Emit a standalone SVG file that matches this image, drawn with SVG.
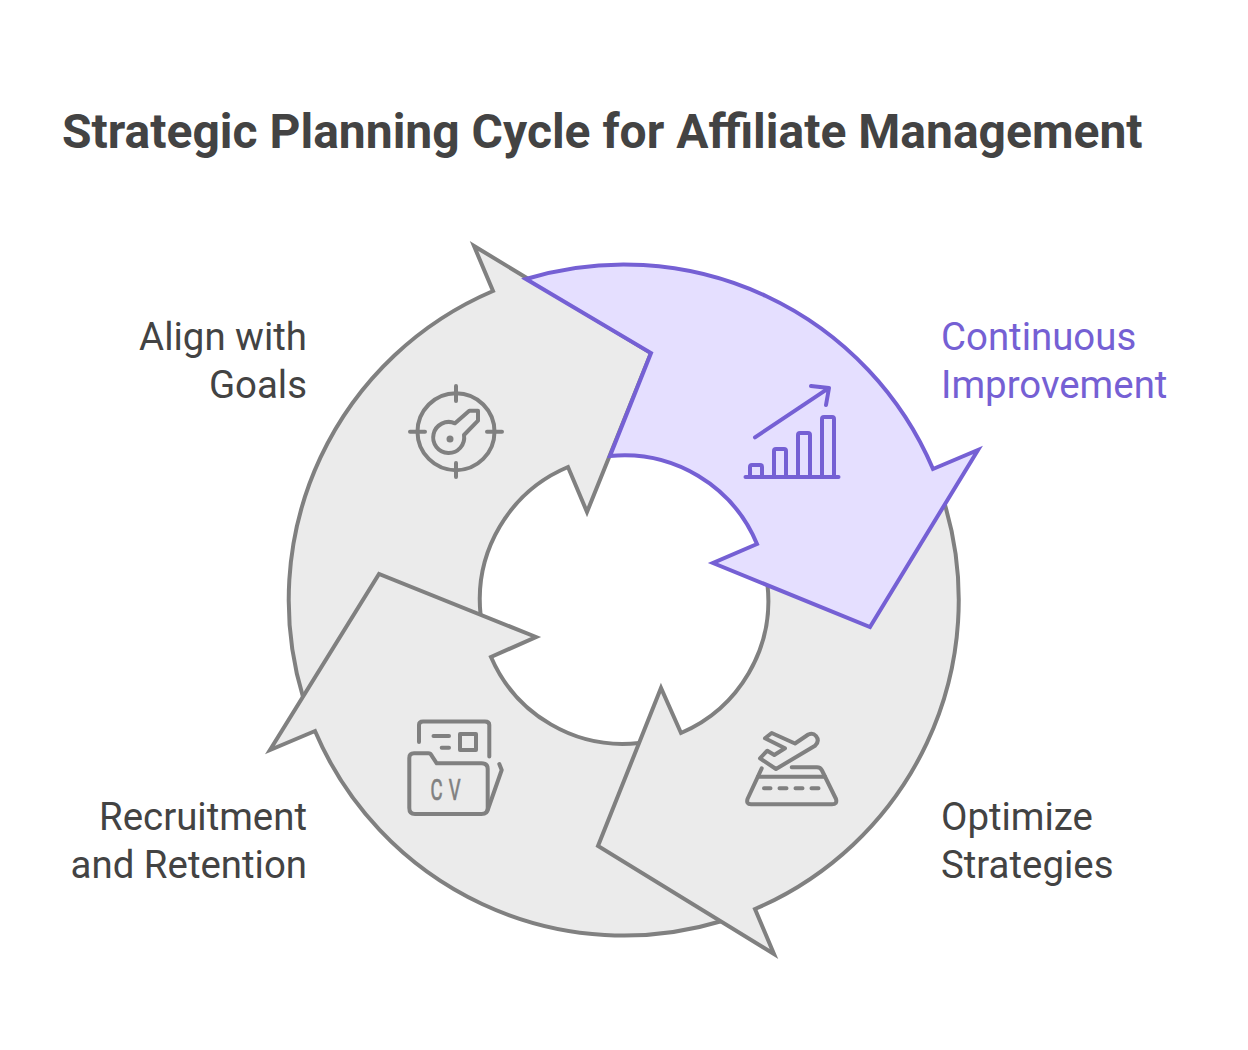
<svg xmlns="http://www.w3.org/2000/svg" width="1248" height="1050" viewBox="0 0 1248 1050">
<style>
text{font-family:Roboto,"Liberation Sans",sans-serif}
.title{font-size:48px;font-weight:700;fill:#434343}
.label{font-size:38.4px;fill:#434343}
.end{text-anchor:end}
.seg{fill:#ebebeb;stroke:#808080;stroke-width:4;stroke-linejoin:miter}
.ic{fill:none;stroke:#808080;stroke-width:4;stroke-linecap:round;stroke-linejoin:round}
.pseg{fill:#e5dfff;stroke:#7560d4;stroke-width:4;stroke-linejoin:miter}
.pic{fill:none;stroke:#7560d4;stroke-width:4;stroke-linecap:round;stroke-linejoin:round}
</style>
<rect width="1248" height="1050" fill="#ffffff"/>
<text class="title" x="62" y="148">Strategic Planning Cycle for Affiliate Management</text>
<g id="align-with-goals">
<path class="seg" d="M303,697A336,336 0 0 1 493,291L474,246L651,353L587,512L568,467A144,144 0 0 0 480.6,615Z"/>
<g class="ic">
<circle cx="456" cy="431.7" r="38.5"/>
<path d="M456,386V401M456,463V477M410,431.7H425M487,431.7H502"/>
<path d="M455,423.3L469.3,410.7H478V420.7L464,435A15.5,15.5 0 1 1 455,423.3Z"/>
</g>
<circle cx="450" cy="439" r="3.5" fill="#808080"/>
<text class="label end" x="307" y="350">Align with</text>
<text class="label end" x="307" y="398">Goals</text>
</g>
<g id="recruitment-and-retention">
<path class="seg" d="M722,921A336,336 0 0 1 315,731L270,750L379,574L536,637L491,657A144,144 0 0 0 639,743Z"/>
<g class="ic">
<path d="M419,742V725Q419,721.5 423,721.5H485Q489.3,721.5 489.3,725V756.5"/>
<path d="M433.5,736H449M441.7,747.7H449"/>
<rect x="460" y="734" width="16" height="16"/>
<path d="M409.3,758Q409.3,753.3 414,753.3H428.5Q430.5,753.3 431.5,755.3L436.7,763.3H481.5Q487.7,763.3 487.7,769V808Q487.7,814 481.5,814H415Q409.3,814 409.3,808Z"/>
<path d="M487.7,810L501.7,770L499.3,764"/>
</g>
<text transform="translate(430.5,800) scale(0.62,1)" font-size="30" letter-spacing="10" fill="#808080" stroke="#808080" stroke-width="0.7">CV</text>
<text class="label end" x="307" y="830">Recruitment</text>
<text class="label end" x="307" y="878">and Retention</text>
</g>
<g id="optimize-strategies">
<path class="seg" d="M945,505A336,336 0 0 1 755,909L774,954L598,846L661,688L681,733A144,144 0 0 0 767.5,585Z"/>
<g class="ic">
<path d="M771.7,733L795,743.5L808.3,734.5Q813,732.5 816,736Q820,741 815,745.7L776,769L760,758.3L767.3,750.7L774.3,755L785,748.3L765,738.3Z"/>
<path d="M761.7,768.3L747.5,799Q746,804.3 751,804.3H832Q837.5,804.3 836,799L822,770.5Q820.5,767.3 817,767.3H791.7"/>
<path d="M758,776.7H825M764,788.3H770.5M779.5,788.3H786.5M795.5,788.3H802.5M811.5,788.3H818.5"/>
</g>
<text class="label" x="941" y="830">Optimize</text>
<text class="label" x="941" y="878">Strategies</text>
</g>
<g id="continuous-improvement">
<path class="pseg" d="M526,279A336,336 0 0 1 933,469L978,450L870,627L713,563L757,544A144,144 0 0 0 610,456L651,353Z"/>
<g class="pic">
<path d="M745.5,477H838.5"/>
<path d="M750,477V467Q750,465 752,465H760Q762,465 762,467V477"/>
<path d="M774,477V451Q774,449 776,449H784Q786,449 786,451V477"/>
<path d="M798,477V435Q798,433 800,433H808Q810,433 810,435V477"/>
<path d="M822,477V419Q822,417 824,417H832Q834,417 834,419V477"/>
<path d="M755,437.3L828.3,388.3M811,386L829,388L826,405"/>
</g>
<text class="label" x="941" y="350" fill="#7560d4" style="fill:#7560d4">Continuous</text>
<text class="label" x="941" y="398" fill="#7560d4" style="fill:#7560d4">Improvement</text>
</g>
</svg>
